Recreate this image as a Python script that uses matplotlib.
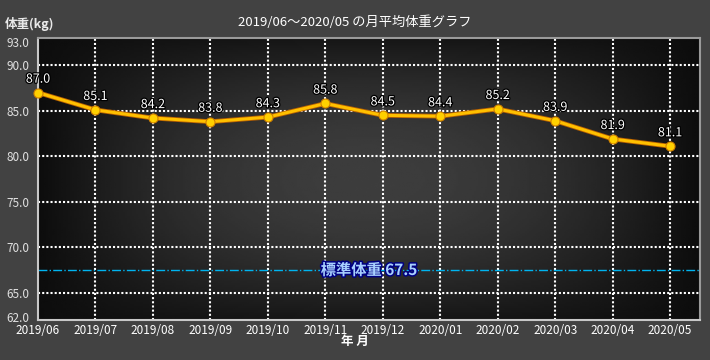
import matplotlib
matplotlib.use("Agg")
import matplotlib.pyplot as plt
import matplotlib.patheffects as pe
import matplotlib.transforms as mtransforms
import numpy as np

plt.rcParams['font.family'] = ['Noto Sans CJK JP', 'DejaVu Sans']

months = ["2019/06", "2019/07", "2019/08", "2019/09", "2019/10", "2019/11",
          "2019/12", "2020/01", "2020/02", "2020/03", "2020/04", "2020/05"]
weights = [87.0, 85.1, 84.2, 83.8, 84.3, 85.8, 84.5, 84.4, 85.2, 83.9, 81.9, 81.1]
standard_weight = 67.5
y_ticks = [62, 65, 70, 75, 80, 85, 90, 93]
grid_y = [65, 70, 75, 80, 85, 90]

fig = plt.figure(figsize=(7.1, 3.6), dpi=100, facecolor="#424242")
ax = fig.add_axes([38 / 710, 40 / 360, 662 / 710, 282 / 360])

x = np.arange(len(months))
x_max = 11.52
ax.set_xlim(0, x_max)
ax.set_ylim(62, 93)

# dark background with a lighter centre
gx = np.linspace(-1, 1, 300)
gy = np.linspace(-1, 1, 150)
GX, GY = np.meshgrid(gx, gy)
shade = 0.05 + 0.19 * (1 - GX ** 2) * (1 - 0.8 * GY ** 2)
ax.imshow(shade, cmap="gray", vmin=0, vmax=1, extent=(0, x_max, 62, 93),
          aspect="auto", zorder=0, interpolation="bilinear")

dot = (0, (1, 1))
for gv in grid_y:
    ax.axhline(gv, color="white", linewidth=1.5, linestyle=dot, zorder=1)
for xv in x[1:]:
    ax.axvline(xv, color="white", linewidth=1.5, linestyle=dot, zorder=1)

# standard weight line
ax.axhline(standard_weight, color="#00B4F0", linewidth=1, linestyle="-.", zorder=2)
ax.text(0.5, standard_weight, f"標準体重 {standard_weight}", transform=ax.get_yaxis_transform(),
        ha="center", va="center", fontsize=11, color="#A8D0FF", fontweight="bold", zorder=5,
        path_effects=[pe.withStroke(linewidth=2.2, foreground="#000080")])

ax.plot(x, weights, color="#FFC000", linewidth=2.2, zorder=3,
        path_effects=[pe.Stroke(linewidth=3.4, foreground="#B86000"), pe.Normal()])
ax.plot(x, weights, linestyle="none", marker="o", markersize=6.5,
        markerfacecolor="#FFD000", markeredgecolor="#D08000", markeredgewidth=0.8,
        zorder=4, clip_on=False)

for xi, w in zip(x, weights):
    ax.annotate(f"{w:.1f}", (xi, w), xytext=(0, 5), textcoords="offset points",
                ha="center", va="bottom", fontsize=9, color="white", zorder=6,
                path_effects=[pe.withStroke(linewidth=1.8, foreground="black")])

ax.set_xticks(x)
ax.set_xticklabels(months)
ax.set_yticks(y_ticks)
ax.set_yticklabels([f"{v:.1f}" for v in y_ticks])
ax.tick_params(length=0, colors="white", labelsize=8.5, pad=3)
ax.tick_params(axis="y", colors="#E0E0E0", pad=6)

# nudge the end labels inside the axis height, as in the original
ylabels = ax.get_yticklabels()
ylabels[0].set_transform(ylabels[0].get_transform() +
                         mtransforms.ScaledTranslation(0, 3 / 100, fig.dpi_scale_trans))
ylabels[-1].set_transform(ylabels[-1].get_transform() +
                          mtransforms.ScaledTranslation(0, -4 / 100, fig.dpi_scale_trans))

for side in ("left", "bottom"):
    ax.spines[side].set_color("#C8C8C8")
    ax.spines[side].set_linewidth(1.5)
for side in ("top", "right"):
    ax.spines[side].set_color("#9A9A9A")
    ax.spines[side].set_linewidth(1.5)

fig.text(0.5, 1 - 22 / 360, "2019/06～2020/05 の月平均体重グラフ", ha="center", va="center",
         fontsize=9.5, color="white")
fig.text(5 / 710, 1 - 24 / 360, "体重(kg)", ha="left", va="center",
         fontsize=9, color="#E8E8E8", fontweight="bold")
fig.text(355 / 710, 1 - 341 / 360, "年 月", ha="center", va="center",
         fontsize=9, color="white", fontweight="bold")

fig.savefig("out.png", dpi=100, facecolor=fig.get_facecolor())
